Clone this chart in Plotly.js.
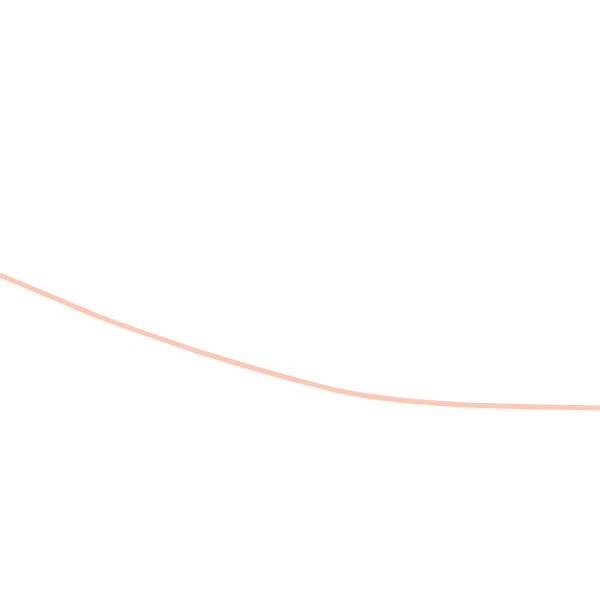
<!DOCTYPE html>
<html>
<head>
<meta charset="utf-8">
<script src="https://cdn.plot.ly/plotly-3.0.1.min.js"></script>
<style>html,body{margin:0;padding:0;background:#fff;}#chart{width:600px;height:600px;}</style>
</head>
<body>
<div id="chart"></div>
<script>
var xValues = [0, 50, 100, 150, 200, 250, 300, 350, 400, 450, 500, 550, 600];
var yValues = [325, 304, 283, 265, 248, 233, 219, 207, 200, 196, 194, 193, 192];

Plotly.newPlot('chart', [{
  x: xValues,
  y: yValues,
  type: 'scatter',
  mode: 'lines',
  line: {color: 'rgba(252,170,140,0.65)', width: 5, shape: 'spline', smoothing: 1.2},
  hoverinfo: 'skip'
}], {
  width: 600, height: 600,
  margin: {l: 0, r: 0, t: 0, b: 0},
  paper_bgcolor: '#fff', plot_bgcolor: '#fff',
  showlegend: false,
  xaxis: {range: [0, 600], visible: false, fixedrange: true},
  yaxis: {range: [0, 600], visible: false, fixedrange: true}
}, {staticPlot: true, displayModeBar: false});
</script>
</body>
</html>
